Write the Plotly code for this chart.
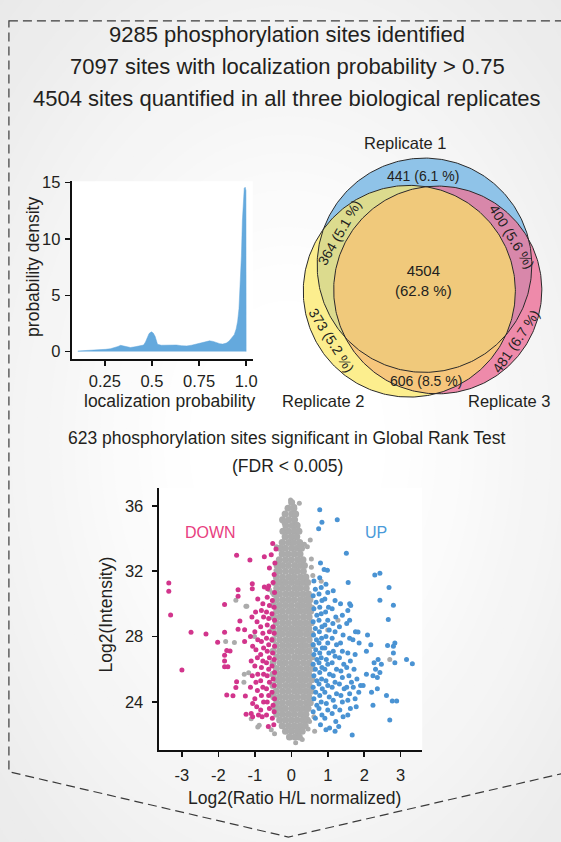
import plotly.graph_objects as go

W, H = 561, 842
FONT = "Liberation Sans, Arial, sans-serif"
TXT = "#231f20"

# ---------------- header text ----------------
header_lines = [
    "9285 phosphorylation sites identified",
    "7097 sites with localization probability > 0.75",
    "4504 sites quantified in all three biological replicates",
]
subtitle_lines = [
    "623 phosphorylation sites significant in Global Rank Test",
    "(FDR < 0.005)",
]

# ---------------- localization probability density ----------------
loc_prob = [0.107, 0.15, 0.185, 0.22, 0.255, 0.28, 0.30, 0.32, 0.334, 0.35, 0.36,
            0.386, 0.41, 0.43, 0.456, 0.466, 0.474, 0.485, 0.497, 0.507, 0.517,
            0.525, 0.53, 0.55, 0.58, 0.605, 0.63, 0.657, 0.685, 0.71, 0.735,
            0.762, 0.785, 0.806, 0.825, 0.84, 0.86, 0.876, 0.895, 0.91, 0.925,
            0.937, 0.947, 0.955, 0.962, 0.968, 0.975, 0.98, 0.985, 0.99, 0.995,
            0.999, 1.0]
density = [0.05, 0.08, 0.12, 0.16, 0.2, 0.25, 0.33, 0.45, 0.55, 0.5, 0.43,
           0.36, 0.42, 0.5, 0.58, 0.85, 1.25, 1.6, 1.75, 1.65, 1.35,
           0.9, 0.64, 0.56, 0.58, 0.62, 0.58, 0.52, 0.5, 0.56, 0.66,
           0.8, 0.9, 0.95, 0.9, 0.8, 0.7, 0.66, 0.75, 0.94, 1.2,
           1.5, 2.0, 2.7, 3.8, 5.8, 8.5, 11.6, 13.6, 14.5, 14.6,
           14.3, 0.0]
dens_xticks = [0.25, 0.5, 0.75, 1.0]
dens_xtext = ["0.25", "0.5", "0.75", "1.0"]
dens_yticks = [0, 5, 10, 15]

# ---------------- Venn diagram ----------------
replicate_names = ["Replicate 1", "Replicate 2", "Replicate 3"]
venn_counts = {"1": 441, "2": 373, "3": 481, "12": 364, "13": 400, "23": 606, "123": 4504}
venn_pct = {"1": 6.1, "2": 5.2, "3": 6.7, "12": 5.1, "13": 5.6, "23": 8.5, "123": 62.8}

# ---------------- volcano-style scatter ----------------
# dense core of non-significant sites: (log2 intensity, [log2 ratios])
grey_rows = [
    (36.2, [0.01]),
    (35.85, [-0.09, 0.07]),
    (35.5, [-0.17, 0.01, 0.12]),
    (35.15, [-0.24, -0.07, 0.09]),
    (34.8, [-0.15, 0.02, 0.16]),
    (34.45, [-0.23, -0.08, 0.08, 0.21]),
    (34.1, [-0.17, 0.0, 0.15]),
    (33.75, [-0.25, -0.08, 0.07, 0.23]),
    (33.4, [-0.31, -0.16, 0.01, 0.16, 0.28]),
    (33.05, [-0.25, -0.09, 0.08, 0.24]),
    (32.7, [-0.33, -0.16, 0.0, 0.17, 0.32]),
    (32.35, [-0.39, -0.24, -0.08, 0.09, 0.24, 0.36]),
    (32.0, [-0.33, -0.16, 0.01, 0.16, 0.33]),
    (31.65, [-0.41, -0.24, -0.07, 0.08, 0.25, 0.4]),
    (31.3, [-0.44, -0.31, -0.16, 0.0, 0.16, 0.32, 0.45]),
    (30.95, [-0.4, -0.24, -0.08, 0.09, 0.24, 0.41]),
    (30.6, [-0.46, -0.32, -0.15, 0.01, 0.16, 0.32, 0.47]),
    (30.25, [-0.41, -0.24, -0.08, 0.08, 0.25, 0.4, 0.51]),
    (29.9, [-0.48, -0.32, -0.16, 0.0, 0.17, 0.32, 0.48]),
    (29.55, [-0.4, -0.24, -0.07, 0.08, 0.24, 0.4, 0.53]),
    (29.2, [-0.48, -0.31, -0.16, 0.01, 0.16, 0.33, 0.49]),
    (28.85, [-0.41, -0.24, -0.08, 0.09, 0.24, 0.4, 0.55]),
    (28.5, [-0.5, -0.32, -0.16, 0.0, 0.16, 0.32, 0.48]),
    (28.15, [-0.4, -0.25, -0.08, 0.08, 0.24, 0.41, 0.56]),
    (27.8, [-0.5, -0.32, -0.15, 0.01, 0.16, 0.32, 0.49]),
    (27.45, [-0.41, -0.24, -0.08, 0.08, 0.25, 0.4, 0.57]),
    (27.1, [-0.5, -0.32, -0.16, 0.0, 0.17, 0.32, 0.48]),
    (26.75, [-0.4, -0.24, -0.08, 0.09, 0.24, 0.4, 0.56]),
    (26.4, [-0.5, -0.31, -0.16, 0.01, 0.16, 0.33, 0.49]),
    (26.05, [-0.41, -0.24, -0.07, 0.08, 0.24, 0.41, 0.57]),
    (25.7, [-0.5, -0.32, -0.16, 0.0, 0.16, 0.32, 0.48]),
    (25.35, [-0.4, -0.25, -0.08, 0.08, 0.25, 0.4, 0.56]),
    (25.0, [-0.5, -0.32, -0.15, 0.01, 0.16, 0.32, 0.49]),
    (24.65, [-0.41, -0.24, -0.08, 0.09, 0.24, 0.4, 0.54]),
    (24.3, [-0.48, -0.32, -0.16, 0.0, 0.16, 0.33, 0.48]),
    (23.95, [-0.4, -0.24, -0.07, 0.08, 0.24, 0.41, 0.52]),
    (23.6, [-0.44, -0.31, -0.16, 0.01, 0.16, 0.32, 0.46]),
    (23.25, [-0.4, -0.24, -0.08, 0.08, 0.25, 0.4]),
    (22.9, [-0.32, -0.16, 0.0, 0.16, 0.32, 0.44]),
    (22.55, [-0.25, -0.08, 0.08, 0.24, 0.38]),
    (22.2, [-0.16, 0.0, 0.16, 0.3]),
    (21.85, [-0.05, 0.1, 0.22]),
]
grey_sparse_x = [-0.02, 0.22, 0.09, -0.2, 0.16, 0.52, 0.44, 0.36, -0.41, 0.55, -0.42, -0.47,
                 -1.22, -0.52, -1.17, -1.3, -0.88, 0.64, 0.5, -1.52, -1.245, -1.8, -1.29,
                 -0.92, -0.6, -1.01, -1.56, -1.1, 2.7, 0.55, 0.59, 0.82, 1.28, 1.0, 0.62,
                 -0.55, 0.58, 0.46, -0.46, 0.3, 0.12]
grey_sparse_y = [36.36, 36.16, 35.95, 34.95, 34.85, 33.9, 33.5, 33.64, 33.5, 32.24, 32.04, 31.24,
                 29.86, 30.68, 25.79, 25.2, 22.58, 22.2, 22.8, 30.22, 29.86, 27.7, 25.69,
                 22.47, 30.86, 28.0, 27.64, 22.97, 26.6, 32.74, 31.73, 31.39, 29.0, 28.4, 23.1,
                 22.3, 29.8, 22.35, 22.05, 21.7, 21.5]

down_x = [-3.36, -3.36, -3.31, -3.0, -2.75, -2.34, -1.5, -1.135, -0.74, -0.51, -0.42, -1.07,
          -1.07, -1.46, -1.46, -1.83, -0.74, -0.65, -1.41, -1.46, -1.28, -1.83, -2.02, -1.77,
          -1.68, -1.83, -1.83, -1.83, -1.74, -1.28, -1.5, -1.52, -1.77, -1.6, -1.26, -1.24,
          -1.06, -0.55, -0.45, -0.6,
          -0.47, -0.5, -0.46, -0.52, -0.47, -0.53, -0.46, -0.5, -0.47, -0.53, -0.46, -0.51,
          -0.47, -0.53, -0.46, -0.5, -0.47, -0.53, -0.46, -0.5, -0.47, -0.52, -0.48,
          -0.62, -0.66, -0.6, -0.68, -0.62, -0.66, -0.6, -0.68, -0.62, -0.66, -0.6, -0.68,
          -0.62, -0.66, -0.6, -0.68, -0.62, -0.66, -0.6, -0.68, -0.63,
          -0.78, -0.82, -0.76, -0.84, -0.78, -0.82, -0.76, -0.84, -0.78, -0.82, -0.76, -0.84,
          -0.78, -0.82, -0.76, -0.84, -0.8,
          -0.92, -0.98, -0.94, -1.0, -0.92, -0.97, -0.93, -1.0, -0.92, -0.97, -0.93, -1.0,
          -0.95, -0.9,
          -1.08, -1.12, -1.06, -1.1, -1.07, -1.12, -1.06, -1.1]
down_y = [31.27, 30.77, 29.32, 25.95, 28.27, 28.15, 32.98, 32.68, 32.88, 33.69, 33.35, 31.23,
          30.93, 30.87, 30.46, 29.96, 31.03, 30.93, 28.95, 28.45, 28.41, 28.27, 27.65, 27.15,
          27.11, 26.85, 26.51, 26.15, 26.15, 27.69, 25.24, 24.88, 24.42, 24.38, 24.36, 23.25,
          23.1, 33.0, 32.5, 32.2,
          31.8, 31.3, 30.7, 30.2, 29.8, 29.4, 29.0, 28.6, 28.2, 27.8, 27.4, 27.0,
          26.6, 26.2, 25.8, 25.4, 25.0, 24.6, 24.2, 23.8, 23.4, 23.0, 22.6,
          31.1, 30.4, 29.9, 29.5, 29.1, 28.7, 28.3, 27.9, 27.5, 27.1, 26.7, 26.4,
          26.0, 25.6, 25.2, 24.8, 24.4, 24.0, 23.6, 23.2, 22.5,
          30.0, 29.6, 29.2, 28.6, 28.2, 27.7, 27.3, 26.9, 26.5, 26.1, 25.7, 25.3,
          24.9, 24.4, 24.0, 23.5, 23.1,
          30.3, 29.5, 28.9, 28.3, 27.8, 27.2, 26.7, 26.2, 25.7, 25.2, 24.7, 24.2,
          23.7, 23.2,
          29.2, 28.0, 27.4, 26.5, 25.6, 24.9, 23.9, 23.3]

up_x = [0.78, 0.84, 0.75, 1.26, 1.51, 0.8, 0.9, 0.99, 1.56, 2.29, 2.43, 2.68, 2.43, 2.8, 2.66,
        1.6, 1.63, 1.6, 1.76, 1.83, 2.09, 1.69, 1.86, 2.18, 2.06, 2.84, 2.8, 2.64, 2.8, 3.16,
        3.32, 2.84, 2.38, 2.27, 2.47, 2.31, 2.43, 2.06, 2.24, 2.36, 1.97, 2.2, 2.36, 2.61,
        2.77, 2.89, 2.24, 2.7, 1.67, 1.2, 0.95, 1.3,
        0.62, 0.66, 0.6, 0.68, 0.62, 0.7, 0.6, 0.66, 0.61, 0.69, 0.6, 0.67, 0.62, 0.7, 0.6,
        0.66, 0.62, 0.7, 0.6, 0.67, 0.62, 0.7, 0.6, 0.66,
        0.78, 0.82, 0.76, 0.84, 0.78, 0.82, 0.76, 0.84, 0.77, 0.83, 0.76, 0.85, 0.78, 0.82,
        0.76, 0.84, 0.78, 0.83, 0.76, 0.85, 0.78, 0.82, 0.76, 0.84, 0.8,
        0.95, 1.0, 0.92, 1.02, 0.94, 1.0, 0.92, 1.04, 0.95, 1.0, 0.92, 1.03, 0.96, 1.0, 0.92,
        1.05, 0.95, 1.0, 0.92, 1.04, 0.96, 1.0, 0.92, 1.05,
        1.15, 1.2, 1.12, 1.22, 1.14, 1.2, 1.12, 1.24, 1.15, 1.2, 1.12, 1.24, 1.15, 1.2, 1.12,
        1.24, 1.15, 1.2, 1.12, 1.22,
        1.35, 1.4, 1.32, 1.42, 1.35, 1.4, 1.32, 1.44, 1.36, 1.4, 1.32, 1.45, 1.36, 1.4, 1.33,
        1.42,
        1.55, 1.52, 1.6, 1.55, 1.62, 1.52, 1.58, 1.65, 1.52, 1.6, 1.55, 1.62, 1.55,
        1.75, 1.72, 1.8, 1.7, 1.85, 1.75, 1.9, 1.78]
up_y = [35.76, 35.0, 34.6, 35.15, 33.1, 32.5, 32.1, 32.05, 31.3, 31.77, 31.87, 31.0, 30.22,
        29.92, 29.05, 30.0, 29.9, 29.0, 28.3, 28.28, 28.1, 27.8, 27.6, 27.5, 27.1, 27.6, 27.4,
        27.45, 27.0, 26.6, 26.33, 26.4, 26.6, 26.4, 26.3, 26.0, 25.8, 25.7, 25.6, 25.5, 25.0,
        24.6, 24.8, 24.4, 24.05, 24.05, 23.8, 22.9, 21.97, 22.2, 22.3, 22.5,
        31.4, 30.9, 30.5, 30.1, 29.7, 29.3, 28.9, 28.5, 28.1, 27.8, 27.5, 27.2, 26.9, 26.6,
        26.3, 26.0, 25.6, 25.3, 24.9, 24.6, 24.2, 23.8, 23.4, 23.0,
        31.6, 31.0, 30.6, 30.2, 29.8, 29.4, 29.0, 28.6, 28.3, 27.9, 27.6, 27.3, 27.0, 26.7,
        26.4, 26.1, 25.8, 25.4, 25.1, 24.8, 24.4, 24.0, 23.6, 23.2, 22.6,
        31.2, 30.7, 30.3, 29.8, 29.5, 29.0, 28.7, 28.4, 28.0, 27.6, 27.3, 27.0, 26.6, 26.3,
        26.0, 25.7, 25.3, 25.0, 24.6, 24.3, 23.9, 23.5, 23.0, 22.4,
        30.8, 30.2, 29.7, 29.2, 28.8, 28.3, 27.9, 27.5, 27.1, 26.8, 26.4, 26.0, 25.6, 25.2,
        24.9, 24.5, 24.1, 23.7, 23.3, 22.8,
        30.0, 29.3, 28.6, 28.1, 27.6, 27.1, 26.7, 26.3, 25.9, 25.5, 25.1, 24.8, 24.4, 24.0,
        23.5, 23.1,
        29.6, 28.8, 27.9, 27.0, 26.5, 26.1, 25.6, 25.2, 24.9, 24.5, 24.1, 23.6, 23.2,
        26.9, 26.0, 25.4, 24.9, 24.6, 24.2, 25.0, 23.7]
scatter_xticks = [-3, -2, -1, 0, 1, 2, 3]
scatter_xtext = ["-3", "-2", "-1", "0", "1", "2", "3"]
scatter_yticks = [24, 28, 32, 36]

# ---------------- geometry helpers (page pixel space) ----------------
def px(x):
    return x / W

def py(y):
    return 1 - y / H

def circle_poly(cx, cy, r, n=360):
    import math
    return [(cx + r * math.cos(2 * math.pi * i / n), cy + r * math.sin(2 * math.pi * i / n))
            for i in range(n)]

def _cross(a, b, p):
    return (b[0] - a[0]) * (p[1] - a[1]) - (b[1] - a[1]) * (p[0] - a[0])

def clip(subject, clipper):
    """Sutherland-Hodgman clipping of a polygon against a convex polygon."""
    out = list(subject)
    for i in range(len(clipper)):
        a, b = clipper[i - 1], clipper[i]
        inp, out = out, []
        if not inp:
            break
        s = inp[-1]
        for e in inp:
            ein, sin_ = _cross(a, b, e) >= 0, _cross(a, b, s) >= 0
            if ein != sin_:
                d1, d2 = _cross(a, b, s), _cross(a, b, e)
                t = d1 / (d1 - d2)
                out.append((s[0] + t * (e[0] - s[0]), s[1] + t * (e[1] - s[1])))
            if ein:
                out.append(e)
            s = e
    return out

fig = go.Figure()

# density panel
fig.add_trace(go.Scatter(x=loc_prob, y=density, mode="lines", fill="tozeroy",
                         line=dict(color="#64a9dd", width=0.5), fillcolor="#64a9dd",
                         xaxis="x", yaxis="y", hoverinfo="skip"))

# scatter panel
gx, gy = [], []
for yy, xs in grey_rows:
    for xx in xs:
        gx.append(xx)
        gy.append(yy)
fig.add_trace(go.Scatter(x=gx, y=gy, mode="markers", xaxis="x2", yaxis="y2",
                         marker=dict(size=7, color="#ababab", line=dict(width=0))))
fig.add_trace(go.Scatter(x=grey_sparse_x, y=grey_sparse_y, mode="markers", xaxis="x2", yaxis="y2",
                         marker=dict(size=5, color="#ababab", line=dict(width=0))))
fig.add_trace(go.Scatter(x=down_x, y=down_y, mode="markers", xaxis="x2", yaxis="y2",
                         marker=dict(size=5, color="#d2358c", line=dict(width=0))))
fig.add_trace(go.Scatter(x=up_x, y=up_y, mode="markers", xaxis="x2", yaxis="y2",
                         marker=dict(size=5, color="#4a93d3", line=dict(width=0))))

# Venn diagram, drawn in page pixel coordinates (x3/y3)
c1 = circle_poly(428.3, 260.0, 108.3)
c2 = circle_poly(413.0, 286.3, 107.0)
c3 = circle_poly(441.7, 285.0, 105.0)
c12 = clip(c1, c2)
c13 = clip(c1, c3)
c23 = clip(c2, c3)
c123 = clip(c12, c3)
regions = [(c1, "#8fc3e8"), (c2, "#fcee8e"), (c3, "#ee8aaa"),
           (c12, "#dcdb8e"), (c13, "#d887aa"), (c23, "#f6c67c"), (c123, "#f0c97b")]
for poly, col in regions:
    xs = [p[0] for p in poly] + [poly[0][0]]
    ys = [p[1] for p in poly] + [poly[0][1]]
    fig.add_trace(go.Scatter(x=xs, y=ys, mode="lines", fill="toself", fillcolor=col,
                             line=dict(width=0, color=col), xaxis="x3", yaxis="y3",
                             hoverinfo="skip"))
for poly in (c1, c2, c3):
    xs = [p[0] for p in poly] + [poly[0][0]]
    ys = [p[1] for p in poly] + [poly[0][1]]
    fig.add_trace(go.Scatter(x=xs, y=ys, mode="lines", line=dict(width=1, color="#2a2a2a"),
                             xaxis="x3", yaxis="y3", hoverinfo="skip"))

# ---------------- background shapes ----------------
shapes = []
cx_bg, cy_bg = 290, 440
steps = 28
for i in range(steps):
    k = 1.35 - i * (1.05 / (steps - 1))
    f = max(0.0, min(1.0, (k - 0.3) / 1.0))
    g = int(round(255 - (255 - 233) * f ** 1.1))
    col = f"rgb({g},{g},{g})"
    rx, ry = 330 * k, 480 * k
    shapes.append(dict(type="circle", xref="paper", yref="paper", layer="below",
                       x0=px(cx_bg - rx), x1=px(cx_bg + rx), y0=py(cy_bg + ry), y1=py(cy_bg - ry),
                       fillcolor=col, line=dict(width=0)))
# white plotting areas
for (x0, y0, x1, y1) in [(72.3, 175, 255, 355), (160, 485, 426, 750)]:
    shapes.append(dict(type="rect", xref="paper", yref="paper", layer="below",
                       x0=px(x0), x1=px(x1), y0=py(y1), y1=py(y0),
                       fillcolor="#ffffff", line=dict(width=0)))
# dashed chevron frame
chev = [(9, 13), (575, 13), (575, 772), (291, 838), (9, 772)]
path = "M " + " L ".join(f"{px(a):.5f},{py(b):.5f}" for a, b in chev) + " Z"
shapes.append(dict(type="path", xref="paper", yref="paper", layer="above", path=path,
                   line=dict(color="#3a3a3a", width=1.2, dash="9px,5px")))

# ---------------- annotations ----------------
ann = []

def label(x, y, text, size, angle=0, color=TXT, xref="x3", yref="y3"):
    ann.append(dict(x=x, y=y, xref=xref, yref=yref, text=text, showarrow=False,
                    textangle=angle, font=dict(family=FONT, size=size, color=color),
                    xanchor="center", yanchor="middle"))

for line, yy in zip(header_lines, [27, 59, 91]):
    label(290, yy, line, 22)
label(290, 435, subtitle_lines[0], 17.5)
label(290, 463, subtitle_lines[1], 17.5)

label(409, 136, replicate_names[0], 16.5)
label(326, 397, replicate_names[1], 16.5)
label(514, 397, replicate_names[2], 16.5)

def vtxt(key):
    return f"{venn_counts[key]} ({venn_pct[key]} %)"

label(427, 170, vtxt("1"), 14)
label(342, 227, vtxt("12"), 14, angle=-60)
label(517, 231, vtxt("13"), 14, angle=58)
label(427, 275, f"{venn_counts['123']}<br>({venn_pct['123']} %)", 15)
label(334, 336, vtxt("2"), 14, angle=58)
label(521, 337, vtxt("3"), 14, angle=-56)
label(430, 377, vtxt("23"), 14)

label(33, 262, "probability density", 17.5, angle=-90)
label(171, 397, "localization probability", 17.5)
label(107, 613, "Log2(Intensity)", 17.5, angle=-90)
label(297, 799, "Log2(Ratio H/L normalized)", 17.5)

label(-2.22, 34.35, "DOWN", 16, color="#e8407f", xref="x2", yref="y2")
label(2.31, 34.35, "UP", 16, color="#4a9ad9", xref="x2", yref="y2")

# ---------------- axes ----------------
axis_common = dict(showline=True, linecolor="#111111", linewidth=2, ticks="outside",
                   ticklen=5, tickwidth=1.5, tickcolor="#111111", showgrid=False,
                   zeroline=False, tickfont=dict(family=FONT, size=16.5, color=TXT),
                   fixedrange=True)

fig.update_layout(
    width=W, height=H,
    margin=dict(l=0, r=0, t=0, b=0),
    paper_bgcolor="#ebebeb",
    plot_bgcolor="rgba(0,0,0,0)",
    showlegend=False,
    hovermode=False,
    shapes=shapes,
    annotations=ann,
    xaxis=dict(domain=[px(72.3), px(255)], range=[0.0743, 1.035], anchor="y",
               tickvals=dens_xticks, ticktext=dens_xtext, ticklabelstandoff=1, **axis_common),
    yaxis=dict(domain=[py(355), py(175)], range=[-0.68, 15.14], anchor="x",
               tickvals=dens_yticks, ticklabelstandoff=1, **axis_common),
    xaxis2=dict(domain=[px(160), px(426)], range=[-3.64, 3.59], anchor="y2",
                tickvals=scatter_xticks, ticktext=scatter_xtext, ticklabelstandoff=4,
                **axis_common),
    yaxis2=dict(domain=[py(750), py(485)], range=[21.06, 37.1], anchor="x2",
                tickvals=scatter_yticks, ticklabelstandoff=5, **axis_common),
    xaxis3=dict(domain=[0, 1], range=[0, W], anchor="y3", visible=False, fixedrange=True),
    yaxis3=dict(domain=[0, 1], range=[H, 0], anchor="x3", visible=False, fixedrange=True),
)

fig.write_html("out.html", config={"displayModeBar": False, "staticPlot": True})
